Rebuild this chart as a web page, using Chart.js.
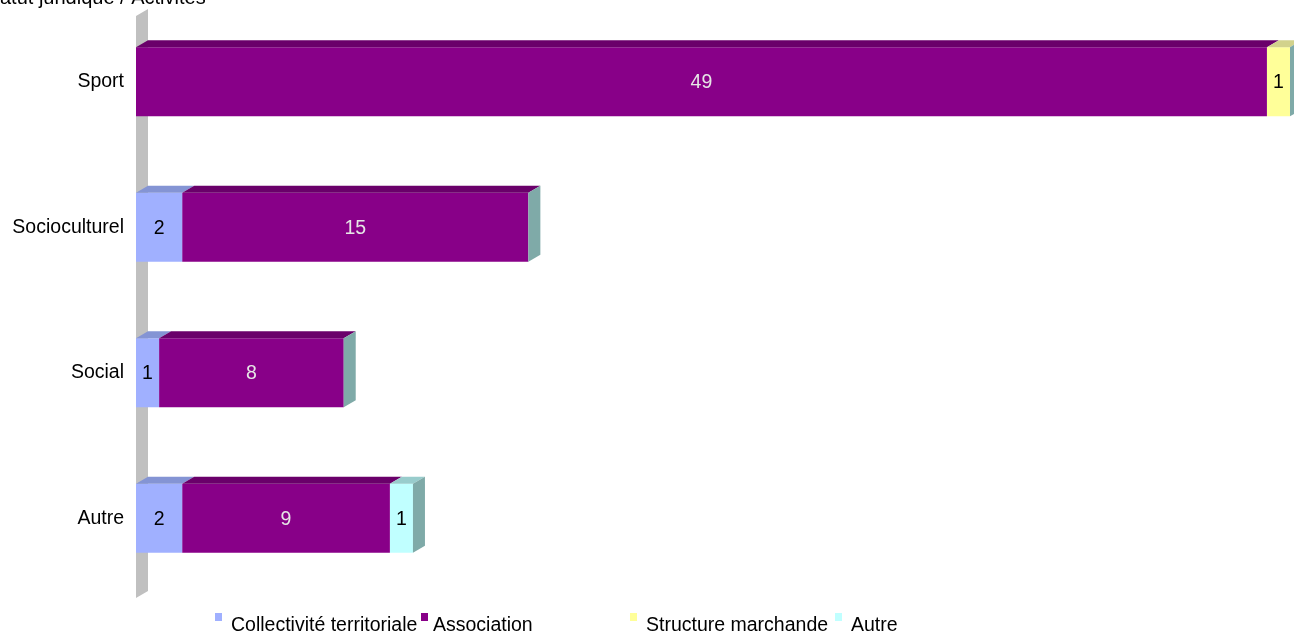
<!DOCTYPE html>
<html lang="fr">
<head>
<meta charset="utf-8">
<title>Statut juridique / Activités</title>
<script src="https://cdn.jsdelivr.net/npm/chart.js@4/dist/chart.umd.min.js"></script>
<style>
  html, body { margin: 0; padding: 0; background: #ffffff; overflow: hidden; }
  #wrap { position: relative; width: 1294px; height: 633px; }
</style>
</head>
<body>
<div id="wrap"><canvas id="chart" width="1294" height="633"></canvas></div>
<script>
// Activités (catégories) et effectifs par statut juridique
const categories = ['Sport', 'Socioculturel', 'Social', 'Autre'];
const collectivite = [0, 2, 1, 2];
const association = [49, 15, 8, 9];
const structureMarchande = [1, 0, 0, 0];
const autreStatut = [0, 0, 0, 1];
const seriesNames = ['Collectivité territoriale', 'Association', 'Structure marchande', 'Autre'];
const titleText = 'Statut juridique / Activités';

// Couleurs : face avant, face supérieure, couleur du libellé de valeur
const frontColors = ['#a0b0ff', '#880088', '#ffff99', '#c0ffff'];
const topColors = ['#8494d4', '#6a006a', '#d2d28c', '#98cccc'];
const labelColors = ['#000000', '#e6e6e6', '#000000', '#000000'];
const sideColor = '#7faaa8';
const wallColor = '#c0c0c0';
const DEPTH_X = 12, DEPTH_Y = 7;
const FONT = '"Liberation Sans", Arial, sans-serif';

const seriesValues = [collectivite, association, structureMarchande, autreStatut];

// Mur gris en perspective derrière l'axe des catégories
const wallPlugin = {
  id: 'wall',
  beforeDatasetsDraw(chart) {
    const { ctx, chartArea: a } = chart;
    ctx.save();
    ctx.fillStyle = wallColor;
    ctx.beginPath();
    ctx.moveTo(a.left, a.top + DEPTH_Y);
    ctx.lineTo(a.left + DEPTH_X, a.top);
    ctx.lineTo(a.left + DEPTH_X, a.bottom);
    ctx.lineTo(a.left, a.bottom + DEPTH_Y);
    ctx.closePath();
    ctx.fill();
    ctx.restore();
  }
};

// Faces supérieures, face latérale et étiquettes de valeurs
const depthPlugin = {
  id: 'depth',
  afterDatasetsDraw(chart) {
    const { ctx } = chart;
    ctx.save();
    const ends = [];
    chart.data.datasets.forEach((ds, di) => {
      const meta = chart.getDatasetMeta(di);
      meta.data.forEach((bar, i) => {
        const p = bar.getProps(['x', 'y', 'base', 'height'], true);
        const x0 = Math.min(p.x, p.base), x1 = Math.max(p.x, p.base);
        const top = p.y - p.height / 2, bottom = p.y + p.height / 2;
        ends[i] = ends[i] ? { x: Math.max(ends[i].x, x1), top, bottom } : { x: x1, top, bottom };
        if (x1 - x0 > 0.5) {
          ctx.fillStyle = topColors[di];
          ctx.beginPath();
          ctx.moveTo(x0, top);
          ctx.lineTo(x0 + DEPTH_X, top - DEPTH_Y);
          ctx.lineTo(x1 + DEPTH_X, top - DEPTH_Y);
          ctx.lineTo(x1, top);
          ctx.closePath();
          ctx.fill();
        }
      });
    });
    ends.forEach(e => {
      ctx.fillStyle = sideColor;
      ctx.beginPath();
      ctx.moveTo(e.x, e.top);
      ctx.lineTo(e.x + DEPTH_X, e.top - DEPTH_Y);
      ctx.lineTo(e.x + DEPTH_X, e.bottom - DEPTH_Y);
      ctx.lineTo(e.x, e.bottom);
      ctx.closePath();
      ctx.fill();
    });
    ctx.font = '19.5px ' + FONT;
    ctx.textAlign = 'center';
    ctx.textBaseline = 'middle';
    chart.data.datasets.forEach((ds, di) => {
      const meta = chart.getDatasetMeta(di);
      meta.data.forEach((bar, i) => {
        const v = ds.data[i];
        if (!v) return;
        const p = bar.getProps(['x', 'y', 'base'], true);
        ctx.fillStyle = labelColors[di];
        ctx.fillText(String(v), (p.x + p.base) / 2, p.y + 1);
      });
    });
    ctx.restore();
  }
};

// Titre (partiellement hors cadre) et légende en bas
const legendSquareX = [215, 421, 630, 835];
const legendTextX = [231, 433, 646, 851];
const decorPlugin = {
  id: 'decor',
  afterDraw(chart) {
    const { ctx } = chart;
    ctx.save();
    ctx.fillStyle = '#000000';
    ctx.textAlign = 'left';
    ctx.textBaseline = 'alphabetic';
    ctx.font = '20px ' + FONT;
    const stW = ctx.measureText('St').width;
    ctx.fillText(titleText, -stW, 4);
    ctx.font = '19.5px ' + FONT;
    seriesNames.forEach((name, i) => {
      ctx.fillStyle = frontColors[i];
      ctx.fillRect(legendSquareX[i], 613, 7, 8);
      ctx.fillStyle = '#000000';
      ctx.fillText(name, legendTextX[i], 631);
    });
    ctx.restore();
  }
};

new Chart(document.getElementById('chart'), {
  type: 'bar',
  data: {
    labels: categories,
    datasets: seriesValues.map((vals, i) => ({
      label: seriesNames[i],
      data: vals,
      backgroundColor: frontColors[i],
      borderWidth: 0,
      barPercentage: 0.475,
      categoryPercentage: 1.0
    }))
  },
  options: {
    indexAxis: 'y',
    responsive: false,
    animation: false,
    layout: { padding: { top: 9, bottom: 42, right: 4, left: 0 } },
    plugins: {
      legend: { display: false },
      tooltip: { enabled: false },
      title: { display: false }
    },
    scales: {
      x: { stacked: true, min: 0, max: 50, display: false },
      y: {
        stacked: true,
        grid: { display: false, drawTicks: false },
        border: { display: false },
        ticks: { color: '#000000', padding: 12, font: { family: FONT, size: 19.5 } },
        afterFit(scale) {
          scale.width = 136;
          scale.paddingTop = 0;
          scale.paddingBottom = 0;
        }
      }
    }
  },
  plugins: [wallPlugin, depthPlugin, decorPlugin]
});
</script>
</body>
</html>
